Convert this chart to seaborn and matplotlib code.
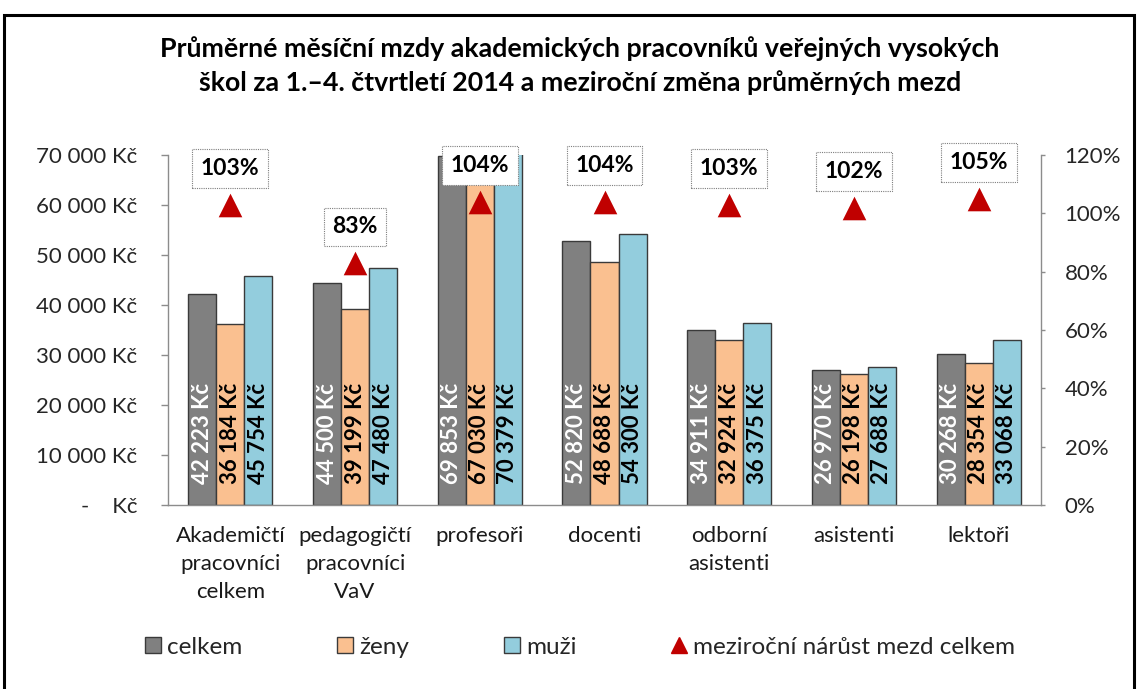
import numpy as np
import pandas as pd
import seaborn as sns
import matplotlib.pyplot as plt
from matplotlib.patches import Patch, Rectangle
from matplotlib.lines import Line2D
from matplotlib.ticker import FuncFormatter, PercentFormatter

# ---- data ----
categories = ["Akademičtí\npracovníci\ncelkem", "pedagogičtí\npracovníci\nVaV",
              "profesoři", "docenti", "odborní\nasistenti", "asistenti", "lektoři"]
series_names = ["celkem", "ženy", "muži"]
celkem = [42223, 44500, 69853, 52820, 34911, 26970, 30268]
zeny = [36184, 39199, 67030, 48688, 32924, 26198, 28354]
muzi = [45754, 47480, 70379, 54300, 36375, 27688, 33068]
growth = [1.03, 0.83, 1.04, 1.04, 1.03, 1.02, 1.05]
growth_label = "meziroční nárůst mezd celkem"
left_ticks = [0, 10000, 20000, 30000, 40000, 50000, 60000, 70000]
right_ticks = [0, 0.2, 0.4, 0.6, 0.8, 1.0, 1.2]
title = ("Průměrné měsíční mzdy akademických pracovníků veřejných vysokých\n"
         "škol za 1.–4. čtvrtletí 2014 a meziroční změna průměrných mezd")

# ---- style ----
sns.set_style("white")
FONT = "Lato"
plt.rcParams["font.family"] = [FONT, "DejaVu Sans"]

colors = ["#808080", "#FAC090", "#93CDDD"]
txt_colors = ["white", "black", "black"]
edge = "#3a3a3a"
spine_col = "#8c8c8c"
red = "#C00000"
fs_tick = 16
fs_bar = 16
fs_box = 16.5
fs_leg = 17.5
fs_title = 19.3

df = pd.DataFrame({
    "kategorie": categories * 3,
    "serie": [s for s in series_names for _ in categories],
    "mzda": celkem + zeny + muzi,
})

fig = plt.figure(figsize=(11.41, 6.89), dpi=100)
ax = fig.add_axes([168 / 1141, 1 - 505 / 689, (1041 - 168) / 1141, 350 / 689])

sns.barplot(data=df, x="kategorie", y="mzda", hue="serie", hue_order=series_names,
            order=categories, palette=colors, saturation=1, width=0.675,
            edgecolor=edge, linewidth=1.0, ax=ax, legend=False, errorbar=None)

# value labels inside bars
for cont, vals, tc in zip(ax.containers, [celkem, zeny, muzi], txt_colors):
    for bar, v in zip(cont, vals):
        ax.text(bar.get_x() + bar.get_width() / 2, 4300,
                f"{v:,}".replace(",", " ") + " Kč", rotation=90,
                ha="center", va="bottom", fontsize=fs_bar, fontweight="bold", color=tc)

ax.set_ylim(0, 70000)
ax.set_xlim(-0.5, len(categories) - 0.5)
ax.set_yticks(left_ticks)


def kc(v, pos):
    if v == 0:
        return "-    Kč"
    return f"{int(v):,}".replace(",", " ") + " Kč"


ax.yaxis.set_major_formatter(FuncFormatter(kc))
ax.set_xlabel("")
ax.set_ylabel("")
ax.set_xticks(np.arange(-0.5, len(categories), 1), minor=True)
ax.tick_params(axis="x", which="major", length=0, pad=15, labelsize=fs_tick, labelcolor="#1a1a1a")
ax.tick_params(axis="x", which="minor", length=6, width=1, color=spine_col, direction="out")
ax.tick_params(axis="y", length=5, width=1, color=spine_col, direction="out", pad=17,
               labelsize=fs_tick, labelcolor="#262626")
for lbl in ax.get_xticklabels():
    lbl.set_linespacing(1.5)
    lbl.set_verticalalignment("top")
for s in ["top", "right"]:
    ax.spines[s].set_visible(False)
for s in ["left", "bottom"]:
    ax.spines[s].set_color(spine_col)
    ax.spines[s].set_linewidth(1.0)

# ---- secondary axis with growth ----
ax2 = ax.twinx()
ax2.set_ylim(0, 1.2)
ax2.set_yticks(right_ticks)
ax2.yaxis.set_major_formatter(PercentFormatter(1.0, decimals=0))
xpos = np.arange(len(categories))
sns.scatterplot(x=xpos, y=growth, marker="^", s=17 ** 2, color=red, linewidth=0, ax=ax2,
                legend=False, zorder=5)
for x, g in zip(xpos, growth):
    ax2.annotate(f"{round(g * 100)}%", xy=(x, g), xytext=(0, 26), textcoords="offset points",
                 ha="center", va="center", fontsize=fs_box, fontweight="bold", color="black",
                 bbox=dict(boxstyle="square,pad=0.38", fc="white", ec="#7f7f7f",
                           ls=(0, (1, 1)), lw=0.8), zorder=6)
ax2.set_ylabel("")
ax2.tick_params(axis="y", length=3, width=1, color=spine_col, direction="out", pad=14,
                labelsize=fs_tick, labelcolor="#262626")
for s in ["top", "left", "bottom"]:
    ax2.spines[s].set_visible(False)
ax2.spines["right"].set_color(spine_col)
ax2.spines["right"].set_linewidth(1.0)
ax2.set_xlim(-0.5, len(categories) - 0.5)

# ---- title ----
fig.text(580 / 1141, 1 - 65.5 / 689, title, ha="center", va="center", fontsize=fs_title,
         fontweight="bold", linespacing=1.42, color="black")

# ---- legend ----
handles = [Patch(fc=c, ec=edge, lw=1) for c in colors] + [
    Line2D([], [], marker="^", ls="none", color=red, ms=12)]
fig.legend(handles, series_names + [growth_label], loc="center left",
           bbox_to_anchor=(145 / 1141, 1 - 647 / 689), ncol=4, frameon=False,
           fontsize=fs_leg, handlelength=0.66, handleheight=0.66, handletextpad=0.25,
           columnspacing=3.9, borderaxespad=0, borderpad=0)

# ---- outer frame ----
fig.add_artist(Rectangle((4 / 1141, -0.05), (1134 - 4) / 1141, (689 - 15) / 689 + 0.05,
                         transform=fig.transFigure, fill=False, ec="black", lw=2.2))

fig.savefig("out.png", dpi=100)
